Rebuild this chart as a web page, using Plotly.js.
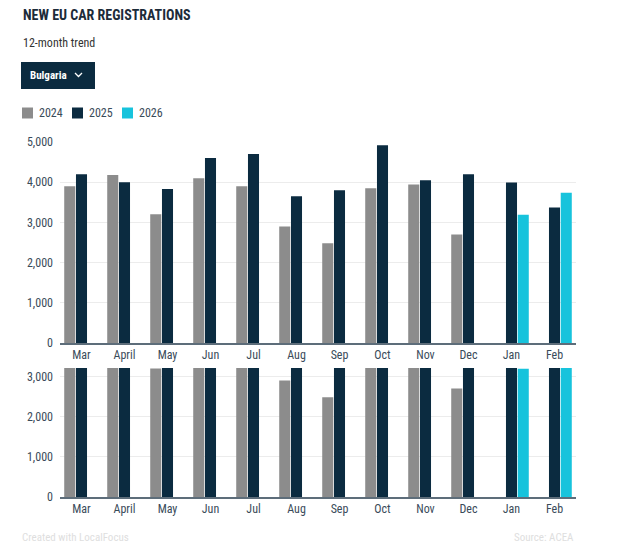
<!DOCTYPE html>
<html>
<head>
<meta charset="utf-8">
<script src="https://cdn.plot.ly/plotly-3.0.1.min.js"></script>
<style>html,body{margin:0;padding:0;background:#fff;}#chart{width:640px;height:549px;}</style>
</head>
<body>
<div id="chart"></div>
<script>
var months = ["Mar","April","May","Jun","Jul","Aug","Sep","Oct","Nov","Dec","Jan","Feb"];
var y2024 = [3900,4180,3200,4100,3900,2900,2480,3850,3940,2700,null,null];
var y2025 = [4200,4000,3830,4600,4700,3650,3800,4920,4050,4200,3990,3370];
var y2026 = [null,null,null,null,null,null,null,null,null,null,3190,3740];
var seriesNames = ["2024","2025","2026"];
var seriesColors = ["#8c8c8c","#0b2b40","#17c3dc"];
var yTicksTop = [0,1000,2000,3000,4000,5000];
var yTicksBottom = [0,1000,2000,3000];

var W = 640, H = 549;
function px(x){ return x / W; }
function py(y){ return (H - y) / H; }

var FONT = "Roboto Condensed, Liberation Sans Narrow, Roboto, sans-serif";
var vals = [y2024, y2025, y2026];
var traces = [];
[["x","y"],["x2","y2"]].forEach(function(ax){
  vals.forEach(function(v, i){
    traces.push({
      type:"bar", x:months, y:v, name:seriesNames[i],
      xaxis:ax[0], yaxis:ax[1], showlegend:false,
      marker:{color:seriesColors[i], line:{width:0}},
      hoverinfo:"x+y+name"
    });
  });
});

function yax(domain, range, ticks){
  return {domain:domain, range:range, tickvals:ticks, tickformat:",", fixedrange:true,
    showgrid:true, gridcolor:"#ececec", gridwidth:1, zeroline:false, showline:false,
    ticks:"", ticklabelstandoff:6,
    tickfont:{family:FONT, size:12, color:"#3a4b5a"}};
}
function xax(domain, anchor){
  return {domain:domain, anchor:anchor, type:"category", showline:true, linecolor:"#5d6d7a", linewidth:1.5,
    ticks:"", tickfont:{family:FONT, size:12, color:"#3a4b5a"}, fixedrange:true};
}

var shapes = [
  {type:"rect", xref:"paper", yref:"paper", x0:px(21), x1:px(95), y0:py(89), y1:py(62),
   fillcolor:"#0b2b40", line:{width:0}, layer:"above"},
  {type:"path", xref:"paper", yref:"paper", layer:"above",
   path:"M"+px(75)+","+py(73)+" L"+px(78.5)+","+py(76.5)+" L"+px(82)+","+py(73),
   line:{color:"#fff", width:1.3}}
];
var annotations = [
  {text:"<b>NEW EU CAR REGISTRATIONS</b>", xref:"paper", yref:"paper", x:px(21), y:py(15),
   xanchor:"left", yanchor:"middle", showarrow:false, font:{family:FONT, size:14, color:"#1c2b39"}},
  {text:"12-month trend", xref:"paper", yref:"paper", x:px(21), y:py(43),
   xanchor:"left", yanchor:"middle", showarrow:false, font:{family:FONT, size:12, color:"#333"}},
  {text:"<b>Bulgaria</b>", xref:"paper", yref:"paper", x:px(28), y:py(75),
   xanchor:"left", yanchor:"middle", showarrow:false, font:{family:FONT, size:11, color:"#fff"}},
  {text:"Created with LocalFocus", xref:"paper", yref:"paper", x:px(20), y:py(537),
   xanchor:"left", yanchor:"middle", showarrow:false, font:{family:FONT, size:11, color:"#dedede"}},
  {text:"Source: ACEA", xref:"paper", yref:"paper", x:px(576), y:py(537),
   xanchor:"right", yanchor:"middle", showarrow:false, font:{family:FONT, size:11, color:"#dedede"}}
];
// legend (manual, to match compact spacing)
seriesNames.forEach(function(n, i){
  var x0 = 22 + 50 * i;
  shapes.push({type:"rect", xref:"paper", yref:"paper", x0:px(x0), x1:px(x0+11), y0:py(118.5), y1:py(107.5),
    fillcolor:seriesColors[i], line:{width:0}});
  annotations.push({text:n, xref:"paper", yref:"paper", x:px(x0+15), y:py(113),
    xanchor:"left", yanchor:"middle", showarrow:false, font:{family:FONT, size:12, color:"#3a4b5a"}});
});

var layout = {
  width:W, height:H, margin:{l:0,r:0,t:0,b:0},
  paper_bgcolor:"#fff", plot_bgcolor:"#fff",
  barmode:"group", bargap:0.18, bargroupgap:0.06,
  xaxis: xax([px(60), px(576)], "y"),
  yaxis: yax([py(343), py(142)], [0,5000], yTicksTop),
  xaxis2: xax([px(60), px(576)], "y2"),
  yaxis2: yax([py(497), py(368)], [0,3210], yTicksBottom),
  showlegend:false,
  shapes:shapes,
  annotations:annotations
};
Plotly.newPlot("chart", traces, layout, {displayModeBar:false});
</script>
</body>
</html>
